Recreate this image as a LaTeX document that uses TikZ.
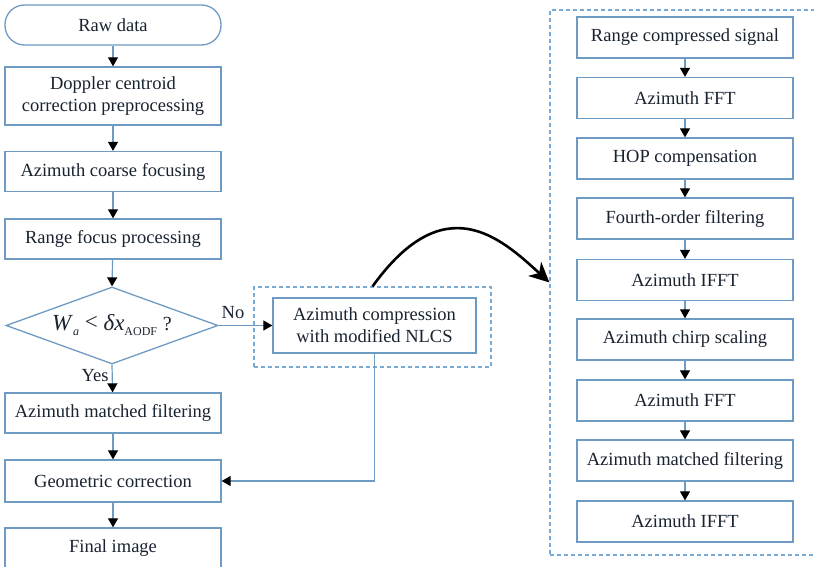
\documentclass[tikz,border=0pt]{standalone}
\usepackage{fontspec}
\setmainfont{Liberation Serif}
\usetikzlibrary{arrows.meta,shapes.geometric}
\definecolor{boxc}{RGB}{110,155,195}
\definecolor{dashc}{RGB}{120,170,215}
\definecolor{txt}{RGB}{25,35,48}
\tikzset{
  every node/.style={font=\fontsize{18.5}{22}\selectfont, text=txt},
  box/.style={draw=boxc, line width=1.3pt, minimum width=216pt, minimum height=40pt, inner sep=0pt, align=center},
  rbox/.style={box, minimum height=41pt},
  dbox/.style={draw=dashc, line width=1.1pt, dash pattern=on 4pt off 3pt, inner sep=0pt},
  smalltip/.tip={Triangle[length=9pt,width=10pt]},
  bigtip/.tip={Stealth[length=20pt,width=19pt,inset=6pt]},
  conn/.style={draw=boxc, line width=1.2pt, arrows={-smalltip[black]}},
  lab/.style={inner sep=0pt},
}
\begin{document}
\begin{tikzpicture}[x=1pt,y=-1pt]
\useasboundingbox (0,0) rectangle (814,567);
% left column
\node[box, rounded corners=19.5pt] (raw) at (113,25) {Raw data};
\node[box, minimum height=58pt] (dop) at (113,96) {Doppler centroid\\correction preprocessing};
\node[box] (coarse) at (113,171.5) {Azimuth coarse focusing};
\node[box] (rfp) at (113,239) {Range focus processing};
\node[draw=boxc, line width=1.3pt, diamond, minimum width=212pt, minimum height=77pt, inner sep=0pt, shape aspect=2.75] (dec) at (112,325.5)
  {\fontsize{23}{23}\selectfont\textit{W}\raisebox{-5pt}{\fontsize{12}{12}\selectfont\textit{a}}\ \raisebox{1pt}{<}\ \textit{δx}\raisebox{-5pt}{\fontsize{12}{12}\selectfont AODF}\ \fontsize{20}{20}\selectfont ?};
\node[box] (amf) at (113,413) {Azimuth matched filtering};
\node[box, minimum height=42pt] (geo) at (113,481) {Geometric correction};
\node[box] (fin) at (113,548) {Final image};
% NLCS
\node[dbox, minimum width=237pt, minimum height=80pt] (dnl) at (372.5,327) {};
\node[box, minimum width=203pt, minimum height=55pt] (nlcs) at (374.5,325.5) {Azimuth compression\\with modified NLCS};
% right column
\node[dbox, minimum width=266pt, minimum height=545pt] (dr) at (683,282.5) {};
\node[rbox] (r1) at (685,37.5) {Range compressed signal};
\node[rbox] (r2) at (685,98) {Azimuth FFT};
\node[rbox] (r3) at (685,158.5) {HOP compensation};
\node[rbox] (r4) at (685,218.5) {Fourth-order filtering};
\node[rbox] (r5) at (685,280) {Azimuth IFFT};
\node[rbox] (r6) at (685,339.5) {Azimuth chirp scaling};
\node[rbox] (r7) at (685,400.5) {Azimuth FFT};
\node[rbox] (r8) at (685,460.5) {Azimuth matched filtering};
\node[rbox] (r9) at (685,521.5) {Azimuth IFFT};
% labels
\node[lab] (no) at (233,313) {No};
\node[lab] (yes) at (95,376) {Yes};
% connectors
\draw[conn] (raw) -- (dop);
\draw[conn] (dop) -- (coarse);
\draw[conn] (coarse) -- (rfp);
\draw[conn] (rfp) -- (dec.north);
\draw[conn] (dec.south) -- (amf);
\draw[conn] (amf) -- (geo);
\draw[conn] (geo) -- (fin);
\draw[conn] (dec.east) -- (nlcs.west);
\draw[conn] (nlcs.south) |- (geo.east);
\draw[conn] (r1) -- (r2);
\draw[conn] (r2) -- (r3);
\draw[conn] (r3) -- (r4);
\draw[conn] (r4) -- (r5);
\draw[conn] (r5) -- (r6);
\draw[conn] (r6) -- (r7);
\draw[conn] (r7) -- (r8);
\draw[conn] (r8) -- (r9);
\draw[black, line width=2.6pt, arrows={-bigtip}] (dnl.north) .. controls (444,187) and (500,237) .. (dr.west);
\end{tikzpicture}
\end{document}
